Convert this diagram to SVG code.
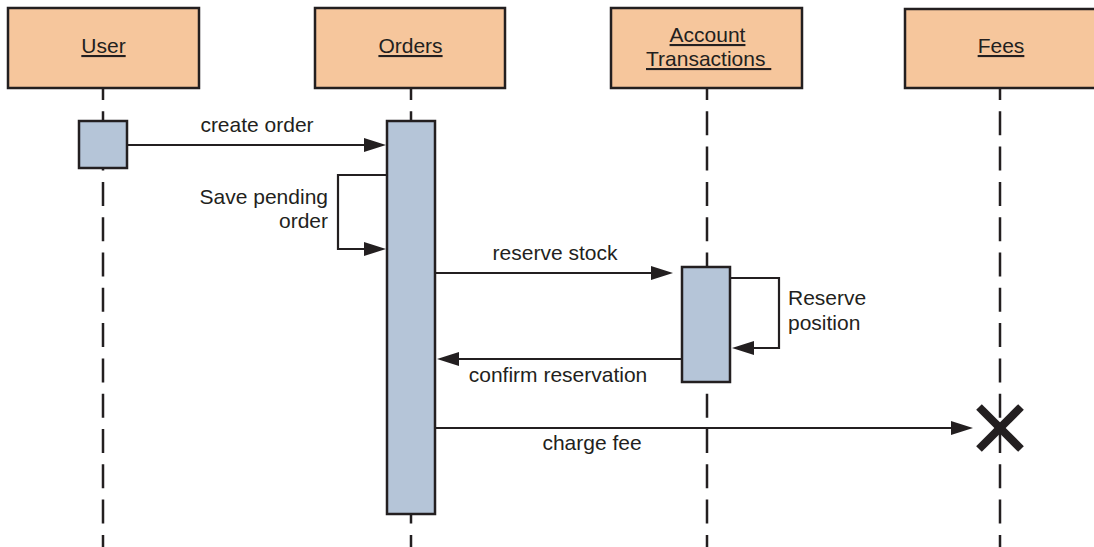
<svg xmlns="http://www.w3.org/2000/svg" width="1094" height="547" viewBox="0 0 1094 547">
<style>
  .head { fill: #f6c69c; stroke: #231f20; stroke-width: 2.5; }
  .act { fill: #b5c5d8; stroke: #231f20; stroke-width: 2.5; }
  .life { stroke: #231f20; stroke-width: 2.5; stroke-dasharray: 24 11.3; stroke-dashoffset: 12; fill: none; }
  .msg { stroke: #231f20; stroke-width: 2.2; fill: none; }
  .lbl { font-family: "Liberation Sans", Arial, sans-serif; font-size: 21px; fill: #231f20; }
  .title { font-family: "Liberation Sans", Arial, sans-serif; font-size: 21px; fill: #231f20; text-decoration: underline; white-space: pre; }
</style>
<defs>
  <marker id="arrow" markerUnits="userSpaceOnUse" markerWidth="22" markerHeight="14" viewBox="0 0 22 14" refX="12" refY="7" orient="auto">
    <path d="M0,0 L22,7 L0,14 z" fill="#231f20"/>
  </marker>
</defs>

<g id="lifelines">
  <line class="life" x1="103" y1="88" x2="103" y2="547"/>
  <line class="life" x1="411" y1="88" x2="411" y2="547"/>
  <line class="life" x1="707" y1="88" x2="707" y2="547"/>
  <line class="life" x1="1000" y1="88" x2="1000" y2="547"/>
</g>

<g id="user">
  <rect class="head" x="8" y="8" width="191" height="80"/>
  <text class="title" x="103.5" y="53" text-anchor="middle">User</text>
  <rect class="act" x="79" y="121" width="48" height="47"/>
</g>

<g id="orders">
  <rect class="head" x="315" y="8" width="190" height="80"/>
  <text class="title" x="410.5" y="53" text-anchor="middle">Orders</text>
  <rect class="act" x="387" y="121" width="48" height="393"/>
</g>

<g id="account-transactions">
  <rect class="head" x="611" y="8" width="191" height="80"/>
  <text class="title" x="707.5" y="42" text-anchor="middle">Account</text>
  <text class="title" x="646" y="66">Transactions </text>
  <rect class="act" x="682" y="267" width="48" height="115"/>
</g>

<g id="fees">
  <rect class="head" x="905" y="9" width="200" height="79"/>
  <text class="title" x="1001" y="53" text-anchor="middle">Fees</text>
  <g id="destroy" stroke="#231f20" stroke-width="8">
    <line x1="979" y1="407" x2="1021" y2="449"/>
    <line x1="1021" y1="407" x2="979" y2="449"/>
  </g>
</g>

<g id="connectors">
  <line class="msg" x1="127" y1="145" x2="376" y2="145" marker-end="url(#arrow)"/>
  <text class="lbl" x="257" y="132" text-anchor="middle">create order</text>

  <path class="msg" d="M386,175 H338 V249 H376" marker-end="url(#arrow)"/>
  <text class="lbl" x="328" y="204" text-anchor="end">Save pending</text>
  <text class="lbl" x="328" y="228" text-anchor="end">order</text>

  <line class="msg" x1="435" y1="273" x2="663" y2="273" marker-end="url(#arrow)"/>
  <text class="lbl" x="555" y="260" text-anchor="middle">reserve stock</text>

  <path class="msg" d="M731,278 H779 V348 H742" marker-end="url(#arrow)"/>
  <text class="lbl" x="788" y="305">Reserve</text>
  <text class="lbl" x="788" y="330">position</text>

  <line class="msg" x1="682" y1="359" x2="447" y2="359" marker-end="url(#arrow)"/>
  <text class="lbl" x="558" y="382" text-anchor="middle">confirm reservation</text>

  <line class="msg" x1="435" y1="428" x2="963" y2="428" marker-end="url(#arrow)"/>
  <text class="lbl" x="592" y="450" text-anchor="middle">charge fee</text>
</g>
</svg>
